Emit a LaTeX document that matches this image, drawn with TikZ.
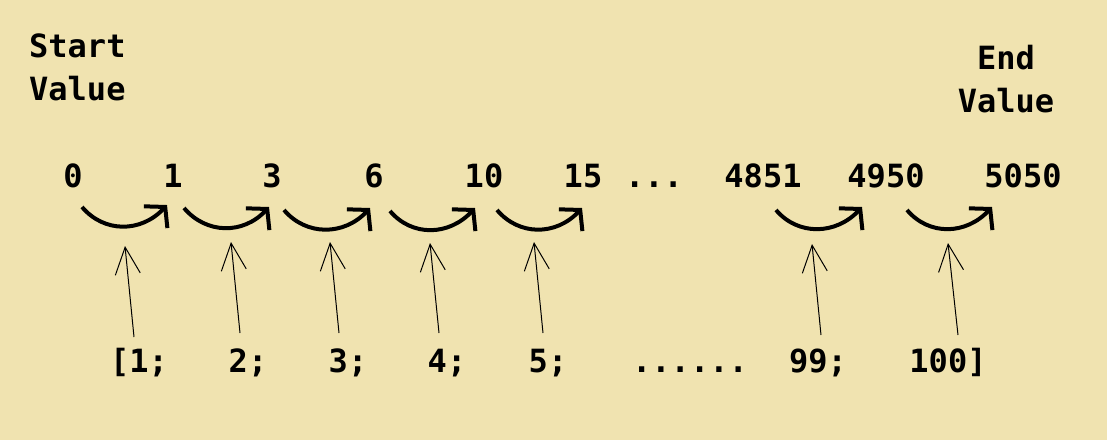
\documentclass[tikz,border=0pt]{standalone}
\usepackage{fontspec}
\setmonofont{DejaVu Sans Mono}
\usetikzlibrary{arrows.meta}
\definecolor{paper}{RGB}{240,227,176}
\tikzstyle{num} = [anchor=base, inner sep=0pt, font=\ttfamily\bfseries\fontsize{32}{43}\selectfont]
\tikzstyle{jump} = [line width=4pt, -{Straight Barb[length=14pt,width=32pt,sharp]}]
\tikzstyle{pick} = [line width=1pt, -{Straight Barb[length=27pt,width=25pt]}]

\begin{document}
\begin{tikzpicture}[x=1pt,y=-1pt]
\useasboundingbox (0,0) rectangle (1107,440);
\fill[paper] (0,0) rectangle (1107,440);

\node (start) [num, anchor=base west, align=left] at (29,100) {Start\\Value};
\node (end) [num, align=center] at (1006,112) {End\\Value};

% running sums
\node (n0) [num] at (73,187) {0};
\node (n1) [num] at (173,187) {1};
\node (n3) [num] at (272,187) {3};
\node (n6) [num] at (374,187) {6};
\node (n10) [num] at (484,187) {10};
\node (n15) [num] at (583,187) {15};
\node (ndots) [num] at (654,187) {...};
\node (n4851) [num] at (763,187) {4851};
\node (n4950) [num] at (886,187) {4950};
\node (n5050) [num] at (1023,187) {5050};

% the numbers added
\node (l1) [num] at (139,372) {[1;};
\node (l2) [num] at (248,372) {2;};
\node (l3) [num] at (348,372) {3;};
\node (l4) [num] at (447,372) {4;};
\node (l5) [num] at (548,372) {5;};
\node (ldots) [num] at (690,372) {......};
\node (l99) [num] at (818,372) {99;};
\node (l100) [num] at (948,372) {100]};

\coordinate (s1) at (82,207);  \coordinate (e1) at (167,205);
\coordinate (s2) at (184,208); \coordinate (e2) at (269,207);
\coordinate (s3) at (284,210); \coordinate (e3) at (370,208);
\coordinate (s4) at (390,211); \coordinate (e4) at (475,208);
\coordinate (s5) at (497,210); \coordinate (e5) at (582,208);
\coordinate (s6) at (776,210); \coordinate (e6) at (862,207);
\coordinate (s7) at (907,210); \coordinate (e7) at (992,207);

\draw [jump] (s1) .. controls +(22,26) and +(-26,28) .. (e1);
\draw [jump] (s2) .. controls +(22,26) and +(-26,28) .. (e2);
\draw [jump] (s3) .. controls +(22,26) and +(-26,28) .. (e3);
\draw [jump] (s4) .. controls +(22,26) and +(-26,28) .. (e4);
\draw [jump] (s5) .. controls +(22,26) and +(-26,28) .. (e5);
\draw [jump] (s6) .. controls +(22,26) and +(-26,28) .. (e6);
\draw [jump] (s7) .. controls +(22,26) and +(-26,28) .. (e7);

\coordinate (t1) at (134,337); \coordinate (b1) at (125,246);
\coordinate (t2) at (240,333); \coordinate (b2) at (231,242);
\coordinate (t3) at (339,333); \coordinate (b3) at (330,242);
\coordinate (t4) at (439,333); \coordinate (b4) at (430,243);
\coordinate (t5) at (543,333); \coordinate (b5) at (534,242);
\coordinate (t6) at (821,335); \coordinate (b6) at (812,244);
\coordinate (t7) at (958,335); \coordinate (b7) at (948,243);

\draw [pick] (t1) -- (b1);
\draw [pick] (t2) -- (b2);
\draw [pick] (t3) -- (b3);
\draw [pick] (t4) -- (b4);
\draw [pick] (t5) -- (b5);
\draw [pick] (t6) -- (b6);
\draw [pick] (t7) -- (b7);

\end{tikzpicture}
\end{document}
